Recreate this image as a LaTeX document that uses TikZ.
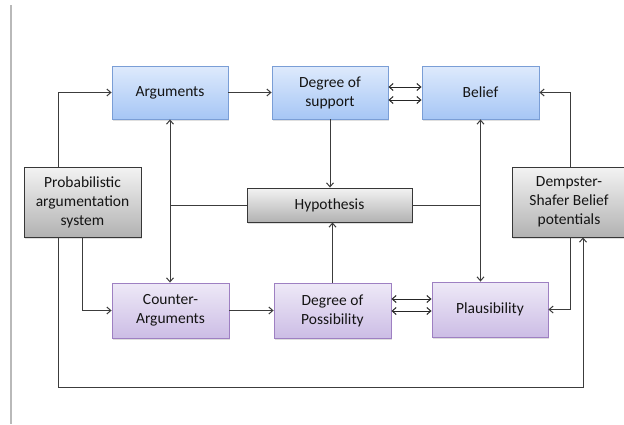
\documentclass[tikz,border=0pt]{standalone}
\usepackage{fontspec}
\setmainfont{Carlito}
\usepackage{xcolor}
\usetikzlibrary{positioning, arrows.meta, calc, shadows}

\definecolor{bluetop}{RGB}{222,234,252}
\definecolor{bluebot}{RGB}{166,198,245}
\definecolor{blueline}{RGB}{122,158,214}
\definecolor{purptop}{RGB}{238,233,247}
\definecolor{purpbot}{RGB}{204,189,229}
\definecolor{purpline}{RGB}{158,128,194}
\definecolor{graytop}{RGB}{243,243,243}
\definecolor{graybot}{RGB}{178,178,178}
\definecolor{grayline}{RGB}{55,55,55}
\definecolor{wireline}{RGB}{60,60,60}

\begin{document}
\begin{tikzpicture}[x=1pt, y=-1pt,
        basebox/.style={draw, rectangle, align=center, inner sep=2pt, line width=0.9pt,
            font=\fontsize{15.5}{19}\selectfont, text=black!92,
            drop shadow={shadow xshift=1pt, shadow yshift=-1.5pt, opacity=0.25}},
        argbox/.style={basebox, minimum width=116pt, minimum height=53pt, draw=blueline, top color=bluetop, bottom color=bluebot},
        counterbox/.style={basebox, minimum width=117pt, minimum height=55pt, draw=purpline, top color=purptop, bottom color=purpbot},
        sysbox/.style={basebox, minimum width=117pt, minimum height=70pt, draw=grayline, top color=graytop, bottom color=graybot},
        arrow/.style={-{Straight Barb[length=4pt, width=7pt]}, line width=1pt, draw=wireline},
        dblarrow/.style={{Straight Barb[length=4pt, width=7pt]}-{Straight Barb[length=4pt, width=7pt]}, line width=1pt, draw=black!85}
    ]

    \useasboundingbox (0,0) rectangle (624,424);

    % page margin line
    \draw[line width=2pt, draw=gray!55] (11,5) -- (11,424);

    % ============ TOP ROW ============
    \node[argbox] (args) at (170,92.5) {Arguments};
    \node[argbox] (dsup) at (330,92.5) {Degree of\\support};
    \node[argbox, minimum width=117pt] (belief) at (480.5,92.5) {Belief};

    % ============ MIDDLE ROW ============
    \node[sysbox] (pas) at (82.5,202) {Probabilistic\\argumentation\\system};
    \node[sysbox, minimum width=165pt, minimum height=34pt] (hyp) at (329.5,205) {Hypothesis};
    \node[sysbox, minimum width=114pt] (dsbp) at (569,202) {Dempster-\\Shafer Belief\\potentials};

    % ============ BOTTOM ROW ============
    \node[counterbox] (cargs) at (170.5,310.5) {Counter-\\Arguments};
    \node[counterbox] (dposs) at (332.5,310.5) {Degree of\\Possibility};
    \node[counterbox, minimum width=116pt] (plaus) at (490,309.5) {Plausibility};

    \coordinate (loop) at (0,387);

    % ============ ARROWS ============
    % from the argumentation system
    \draw[arrow] ([xshift=-24.5pt]pas.north) |- (args);
    \draw[arrow] (pas.south) |- (cargs);
    \draw[arrow] ([xshift=-24.5pt]pas.south) |- ([xshift=14pt]dsbp.south |- loop) -- ([xshift=14pt]dsbp.south);

    % support side
    \draw[arrow] (args) -- (dsup);
    \draw[dblarrow] ([yshift=5.5pt]dsup.east) -- ([yshift=5.5pt]belief.west);
    \draw[dblarrow] ([yshift=-7.5pt]dsup.east) -- ([yshift=-7.5pt]belief.west);
    \draw[arrow] (dsup.south) -- (dsup.south |- hyp.north);

    % possibility side
    \draw[arrow] (cargs) -- (dposs);
    \draw[dblarrow] ([yshift=11.5pt]dposs.east) -- ([yshift=11.5pt]plaus.west |- dposs.east);
    \draw[dblarrow] ([yshift=-0.5pt]dposs.east) -- ([yshift=-0.5pt]plaus.west |- dposs.east);
    \draw[arrow] (dposs.north) -- (dposs.north |- hyp.south);

    % hypothesis links
    \draw[dblarrow, draw=wireline] (args.south) -- (args.south |- cargs.north);
    \draw[line width=1pt, draw=wireline] (hyp) -- (hyp -| args.south);
    \draw[dblarrow, draw=wireline] (belief.south) -- (belief.south |- plaus.north);
    \draw[line width=1pt, draw=wireline] (hyp) -- (hyp -| belief.south);

    % Dempster-Shafer potentials
    \draw[arrow] ([xshift=1pt]dsbp.north) |- (belief);
    \draw[arrow] ([xshift=1pt]dsbp.south) |- (plaus);

\end{tikzpicture}
\end{document}
